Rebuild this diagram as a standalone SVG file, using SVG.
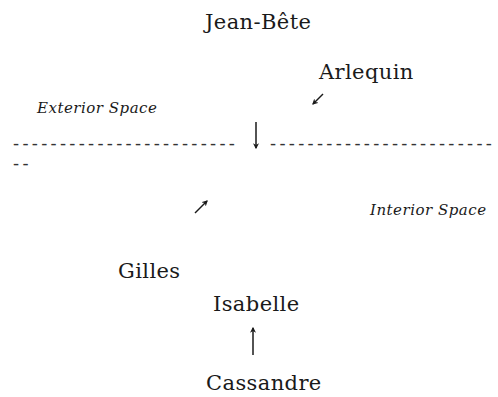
<svg xmlns="http://www.w3.org/2000/svg" width="498" height="397" viewBox="0 0 498 397">
<defs>
<style>
.name{font-size:21px;letter-spacing:0.4px;fill:#1a1a1a}
.zone{font-size:15px;font-style:italic;letter-spacing:0.5px;fill:#1a1a1a}
.dash{font-size:18px;letter-spacing:3.3px;fill:#333}
.arr{stroke:#1a1a1a;stroke-width:1.5;fill:none;marker-end:url(#head)}
</style>
<marker id="head" viewBox="0 0 10 10" refX="8" refY="5" markerWidth="6" markerHeight="6" orient="auto" markerUnits="userSpaceOnUse">
<path d="M0,0 L10,5 L0,10 L3,5 z" fill="#1a1a1a"/>
</marker>
</defs>
<rect width="498" height="397" fill="#fff"/>
<g font-family="DejaVu Serif, serif">
<g id="jean-bete"><text class="name" x="205" y="29">Jean-Bête</text></g>
<g id="arlequin"><text class="name" x="319" y="79">Arlequin</text></g>
<g id="exterior"><text class="zone" x="37" y="113">Exterior Space</text></g>
<g id="boundary">
<text class="dash" x="13" y="150">------------------------</text>
<text class="dash" x="270" y="150">------------------------</text>
<text class="dash" x="13" y="170">--</text>
</g>
<g id="interior"><text class="zone" x="370" y="215">Interior Space</text></g>
<g id="gilles"><text class="name" x="118" y="278">Gilles</text></g>
<g id="isabelle"><text class="name" x="213" y="311">Isabelle</text></g>
<g id="cassandre"><text class="name" x="206" y="390">Cassandre</text></g>
</g>
<g id="connectors">
<path class="arr" d="M256,122 L256,148"/>
<path class="arr" d="M323,94 L313,104"/>
<path class="arr" d="M195,213 L207,201"/>
<path class="arr" d="M253,355 L253,328"/>
</g>
</svg>
